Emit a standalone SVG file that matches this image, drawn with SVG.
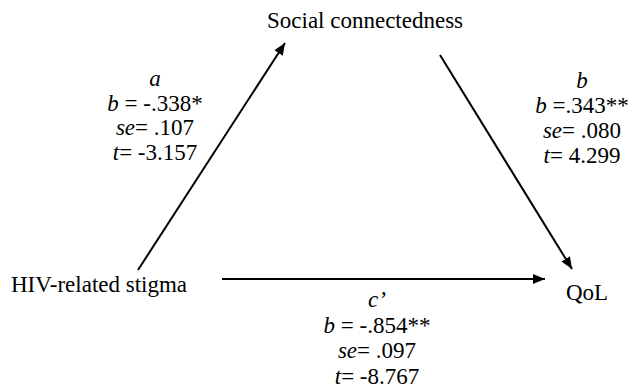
<svg xmlns="http://www.w3.org/2000/svg" width="629" height="390" viewBox="0 0 629 390">
<style>
text{font-family:"Liberation Serif","Times New Roman",serif;font-size:23px;fill:#000}
.i{font-style:italic}
.lbl{text-anchor:middle}
.edge{stroke:#000;stroke-width:2;fill:none;marker-end:url(#ah)}
</style>
<defs>
<marker id="ah" viewBox="0 0 12 10" refX="12" refY="5" markerWidth="12" markerHeight="10" markerUnits="userSpaceOnUse" orient="auto">
<path d="M0,0 L12,5 L0,10 z" fill="#000"/>
</marker>
</defs>
<rect width="629" height="390" fill="#fff"/>
<g id="connectors">
<line class="edge" x1="138" y1="270" x2="285" y2="43"/>
<line class="edge" x1="440" y1="55" x2="572" y2="269"/>
<line class="edge" x1="222" y1="279" x2="545" y2="279"/>
</g>
<g id="node-social"><text x="267" y="28">Social connectedness</text></g>
<g id="node-stigma"><text x="11" y="292">HIV-related stigma</text></g>
<g id="node-qol"><text x="566" y="300">QoL</text></g>
<g id="label-a" class="lbl">
<text x="155" y="86" class="i lbl">a</text>
<text x="155" y="111" class="lbl"><tspan class="i">b</tspan> = -.338*</text>
<text x="155" y="135" class="lbl"><tspan class="i">se</tspan>= .107</text>
<text x="155" y="160" class="lbl"><tspan class="i">t</tspan>= -3.157</text>
</g>
<g id="label-b">
<text x="582" y="88" class="i lbl">b</text>
<text x="582" y="113" class="lbl"><tspan class="i">b</tspan> =.343**</text>
<text x="582" y="138" class="lbl"><tspan class="i">se</tspan>= .080</text>
<text x="582" y="163" class="lbl"><tspan class="i">t</tspan>= 4.299</text>
</g>
<g id="label-c">
<text x="377" y="307" class="i lbl">c’</text>
<text x="377" y="333" class="lbl"><tspan class="i">b</tspan> = -.854**</text>
<text x="377" y="358" class="lbl"><tspan class="i">se</tspan>= .097</text>
<text x="377" y="384" class="lbl"><tspan class="i">t</tspan>= -8.767</text>
</g>
</svg>
